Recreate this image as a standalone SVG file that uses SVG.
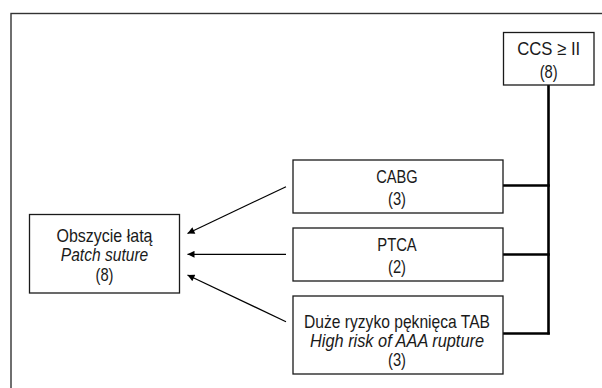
<svg xmlns="http://www.w3.org/2000/svg" width="602" height="388" viewBox="0 0 602 388">
<style>
.box{fill:#fff;stroke:#1a1a1a;stroke-width:1.3}
.t{font-family:"Liberation Sans",Arial,sans-serif;font-size:18.6px;fill:#1a1a1a;text-anchor:middle}
.i{font-style:italic}
.thick{fill:none;stroke:#000;stroke-width:2.6}
.arr{fill:none;stroke:#000;stroke-width:1.2;marker-end:url(#ah)}
</style>
<defs>
<marker id="ah" viewBox="0 0 10 10" refX="10" refY="5" markerWidth="8" markerHeight="7" markerUnits="userSpaceOnUse" orient="auto">
<path d="M0,0 L10,5 L0,10 Z" fill="#000"/>
</marker>
</defs>
<rect x="11" y="13.5" width="600" height="400" fill="#fff" stroke="#333" stroke-width="1.4"/>
<g id="connectors">
<path class="thick" d="M548.5,85 V334.5"/>
<path class="thick" d="M503,185.5 H549.8"/>
<path class="thick" d="M503,254.5 H549.8"/>
<path class="thick" d="M503,333.5 H549.8"/>
<line class="arr" x1="286" y1="186.7" x2="187.5" y2="233.5"/>
<line class="arr" x1="286" y1="254.3" x2="187.5" y2="254.3"/>
<line class="arr" x1="286" y1="321.7" x2="187.5" y2="275"/>
</g>
<g id="ccs">
<rect class="box" x="503.5" y="32.5" width="90.5" height="52.5"/>
<text class="t" x="548.7" y="54.5" textLength="63" lengthAdjust="spacingAndGlyphs">CCS ≥ II</text>
<text class="t" x="548.7" y="77.5" textLength="18" lengthAdjust="spacingAndGlyphs">(8)</text>
</g>
<g id="cabg">
<rect class="box" x="293" y="160" width="210" height="53"/>
<text class="t" x="397" y="182.5" textLength="41.5" lengthAdjust="spacingAndGlyphs">CABG</text>
<text class="t" x="397" y="205" textLength="18" lengthAdjust="spacingAndGlyphs">(3)</text>
</g>
<g id="ptca">
<rect class="box" x="293" y="228" width="210" height="53"/>
<text class="t" x="397" y="250.5" textLength="39.5" lengthAdjust="spacingAndGlyphs">PTCA</text>
<text class="t" x="397" y="273" textLength="18" lengthAdjust="spacingAndGlyphs">(2)</text>
</g>
<g id="tab">
<rect class="box" x="293" y="296" width="210" height="78"/>
<text class="t" x="397" y="327.5" textLength="186" lengthAdjust="spacingAndGlyphs">Duże ryzyko pęknięca TAB</text>
<text class="t i" x="397" y="346.5" textLength="174" lengthAdjust="spacingAndGlyphs">High risk of AAA rupture</text>
<text class="t" x="397" y="366" textLength="18" lengthAdjust="spacingAndGlyphs">(3)</text>
</g>
<g id="patch">
<rect class="box" x="29.5" y="214.5" width="150" height="78.5"/>
<text class="t" x="104.5" y="241.5" textLength="96" lengthAdjust="spacingAndGlyphs">Obszycie łatą</text>
<text class="t i" x="104.5" y="261" textLength="87.5" lengthAdjust="spacingAndGlyphs">Patch suture</text>
<text class="t" x="104.5" y="281" textLength="18" lengthAdjust="spacingAndGlyphs">(8)</text>
</g>
</svg>
